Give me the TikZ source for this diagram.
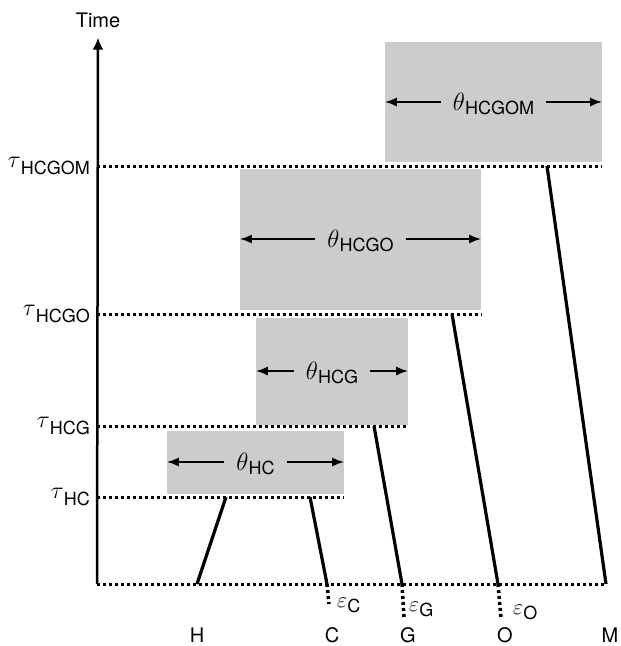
\RequirePackage{fix-cm}
\documentclass[tikz,border=0pt]{standalone}
\usepackage{amsmath}
\usepackage{fontspec}
\setmainfont{TeX Gyre Heros}
\usetikzlibrary{arrows.meta}

\newcommand{\subfont}{\fontsize{18}{18}\selectfont}
\newcommand{\gsub}[3][6pt]{$#2$\raisebox{-#1}{\subfont #3}}

\begin{document}
\begin{tikzpicture}[x=1pt, y=-1pt,
    popbox/.style={fill=black!20, inner sep=0pt},
    timeline/.style={line width=3pt, dash pattern=on 3pt off 3pt},
    lineage/.style={line width=3.2pt},
    pairarrow/.style={line width=2pt, -{Latex[length=12pt,width=9pt]}},
    thetalbl/.style={inner xsep=12pt, inner ysep=0pt, font=\fontsize{25}{28}\selectfont},
    taulbl/.style={inner sep=0pt, anchor=east, font=\fontsize{24}{28}\selectfont},
    epslbl/.style={inner sep=0pt, anchor=west, font=\fontsize{22}{24}\selectfont},
    taxon/.style={inner sep=0pt, font=\fontsize{20}{24}\selectfont}]

    \useasboundingbox (0,0) rectangle (621,646);

    % ancestral populations
    \node[popbox, minimum width=217pt, minimum height=120pt] (boxHCGOM) at (493.5,102) {};
    \node[popbox, minimum width=241pt, minimum height=141pt] (boxHCGO) at (360.5,239) {};
    \node[popbox, minimum width=152pt, minimum height=107pt] (boxHCG) at (332,371) {};
    \node[popbox, minimum width=177pt, minimum height=63pt] (boxHC) at (255.5,462) {};

    \node[thetalbl] (lblHCGOM) at ([yshift=-2pt]boxHCGOM.center) {\gsub[4pt]{\theta}{HCGOM}};
    \node[thetalbl] (lblHCGO) at ([yshift=-2pt]boxHCGO.center) {\gsub[4pt]{\theta}{HCGO}};
    \node[thetalbl] (lblHCG) at ([yshift=-2pt]boxHCG.center) {\gsub[4pt]{\theta}{HCG}};
    \node[thetalbl] (lblHC) at ([yshift=-2pt]boxHC.center) {\gsub[4pt]{\theta}{HC}};

    \foreach \p in {HCGOM,HCGO,HCG,HC} {
        \draw[pairarrow] (lbl\p.west |- box\p.center) -- (box\p.west);
        \draw[pairarrow] (lbl\p.east |- box\p.center) -- (box\p.east);
    }

    % split times
    \coordinate (yHCGOM) at (97,166);
    \coordinate (yHCGO) at (97,314);
    \coordinate (yHCG) at (97,426);
    \coordinate (yHC) at (97,497);
    \coordinate (origin) at (97,584);

    \draw[timeline] (yHCGOM) -- (yHCGOM -| boxHCGOM.east);
    \draw[timeline] (yHCGO) -- (yHCGO -| boxHCGO.east);
    \draw[timeline] (yHCG) -- (yHCG -| boxHCG.east);
    \draw[timeline] (yHC) -- (yHC -| boxHC.east);

    \node[taulbl] (tauHCGOM) at (90,166) {\gsub[7pt]{\tau}{HCGOM}};
    \node[taulbl] (tauHCGO) at (90,314) {\gsub[7pt]{\tau}{HCGO}};
    \node[taulbl] (tauHCG) at (90,426) {\gsub[7pt]{\tau}{HCG}};
    \node[taulbl] (tauHC) at (90,497) {\gsub[7pt]{\tau}{HC}};

    % lineages
    \coordinate (Htop) at (226,497);
    \coordinate (Hbot) at (197,584);
    \coordinate (Ctop) at (310,497);
    \coordinate (Cbot) at (327,584);
    \coordinate (Cend) at (329,604);
    \coordinate (Gtop) at (374,426);
    \coordinate (Gbot) at (402,584);
    \coordinate (Gend) at (404,618);
    \coordinate (Otop) at (452,314);
    \coordinate (Obot) at (498,584);
    \coordinate (Oend) at (501,618);
    \coordinate (Mtop) at (547,166);
    \coordinate (Mbot) at (606,584);

    \draw[timeline] (origin) -- (Mbot);

    \draw[lineage] (Htop) -- (Hbot);
    \draw[lineage] (Ctop) -- (Cbot);
    \draw[lineage] (Gtop) -- (Gbot);
    \draw[lineage] (Otop) -- (Obot);
    \draw[lineage] (Mtop) -- (Mbot);

    \draw[timeline, line width=3.5pt] (Cbot) -- (Cend);
    \draw[timeline, line width=3.5pt] (Gbot) -- (Gend);
    \draw[timeline, line width=3.5pt] (Obot) -- (Oend);

    \node[epslbl] (epsC) at (337,605) {\gsub[5pt]{\varepsilon}{C}};
    \node[epslbl] (epsG) at (409,609) {\gsub[5pt]{\varepsilon}{G}};
    \node[epslbl] (epsO) at (513,612) {\gsub[5pt]{\varepsilon}{O}};

    % time axis
    \node[taxon] (time) at (98,20) {Time};
    \draw[line width=2.5pt, -{Latex[length=12pt,width=11pt]}, shorten >=10pt] (origin) -- (time.south);

    \node[taxon] (H) at (197,635) {H};
    \node[taxon] (C) at (332,635) {C};
    \node[taxon] (G) at (408,635) {G};
    \node[taxon] (O) at (505,635) {O};
    \node[taxon] (M) at (610,635) {M};

\end{tikzpicture}
\end{document}
